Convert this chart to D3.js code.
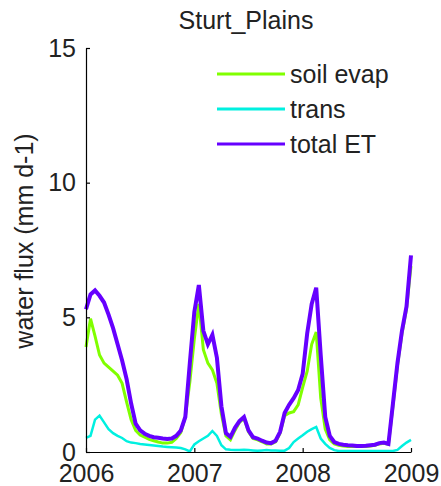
<!DOCTYPE html>
<html>
<head>
<meta charset="utf-8">
<script src="https://cdn.jsdelivr.net/npm/d3@7"></script>
<style>
  html, body { margin: 0; padding: 0; background: #fff; }
  text { font-family: "Liberation Sans", Arial, sans-serif; fill: #222; }
</style>
</head>
<body>
<svg id="chart" width="441" height="486"></svg>
<script>
// ---- data (half-monthly steps from 2006.0 to 2009.0) ----
const startYear = 2006;
const stepsPerYear = 24;
const soilEvap = [3.9, 4.95, 4.3, 3.6, 3.3, 3.15, 3.0, 2.85, 2.55, 1.85, 1.2, 0.8, 0.63, 0.55, 0.47, 0.42, 0.37, 0.33, 0.33, 0.36, 0.5, 0.72, 1.3, 2.6,
  4.2, 5.5, 3.8, 3.3, 3.05, 2.55, 1.4, 0.6, 0.45, 0.8, 1.1, 1.25, 0.75, 0.5, 0.45, 0.38, 0.3, 0.3, 0.38, 0.7, 1.35, 1.45, 1.5, 1.75,
  2.4, 3.0, 4.0, 4.45, 2.0, 0.85, 0.45, 0.3, 0.25, 0.22, 0.2, 0.2, 0.2, 0.2, 0.2, 0.22, 0.25, 0.3, 0.32, 0.28, 1.7, 3.2, 4.4, 5.3, 6.9];
const trans = [0.52, 0.6, 1.2, 1.35, 1.1, 0.85, 0.7, 0.6, 0.52, 0.4, 0.35, 0.33, 0.3, 0.28, 0.26, 0.24, 0.22, 0.2, 0.19, 0.18, 0.17, 0.15, 0.1, 0.02,
  0.28, 0.4, 0.5, 0.6, 0.78, 0.6, 0.25, 0.1, 0.08, 0.07, 0.07, 0.08, 0.07, 0.06, 0.05, 0.06, 0.07, 0.06, 0.06, 0.05, 0.05, 0.15, 0.37, 0.5,
  0.62, 0.75, 0.85, 0.93, 0.5, 0.3, 0.15, 0.07, 0.04, 0.04, 0.04, 0.04, 0.04, 0.04, 0.04, 0.04, 0.04, 0.04, 0.04, 0.04, 0.04, 0.08, 0.22, 0.35, 0.45];
const totalET = [5.3, 5.85, 6.0, 5.8, 5.55, 5.1, 4.6, 4.0, 3.4, 2.7, 1.8, 1.05, 0.8, 0.68, 0.6, 0.55, 0.53, 0.5, 0.48, 0.5, 0.6, 0.8, 1.3, 3.3,
  5.2, 6.2, 4.5, 4.0, 4.35, 3.5, 1.7, 0.7, 0.56, 0.9, 1.15, 1.3, 0.8, 0.55, 0.5, 0.42, 0.35, 0.33, 0.42, 0.75, 1.45, 1.75, 2.0, 2.3,
  2.9, 4.4, 5.5, 6.1, 3.6, 1.3, 0.6, 0.37, 0.3, 0.27, 0.25, 0.24, 0.22, 0.22, 0.23, 0.25, 0.27, 0.33, 0.35, 0.3, 1.8, 3.3, 4.5, 5.4, 7.3];
const xTicks = [2006, 2007, 2008, 2009];
const yTicks = [0, 5, 10, 15];
const seriesNames = ["soil evap", "trans", "total ET"];
const seriesColors = ["#80ff00", "#00f0e0", "#6600ff"];
const seriesWidths = [3, 2.5, 4];
const titleText = "Sturt_Plains";
const yLabelText = "water flux (mm d-1)";

// ---- chart ----
const svg = d3.select("#chart");
const x = d3.scaleLinear().domain([2006, 2009]).range([86, 411]);
const y = d3.scaleLinear().domain([0, 15]).range([452, 48]);
const t = i => startYear + i / stepsPerYear;

const line = d3.line().x((d, i) => x(t(i))).y(d => y(d));
[soilEvap, trans, totalET].forEach((s, k) => {
  svg.append("path").datum(s)
    .attr("d", line)
    .attr("fill", "none")
    .attr("stroke", seriesColors[k])
    .attr("stroke-width", seriesWidths[k])
    .attr("stroke-linejoin", "miter");
});

const xAxis = svg.append("g").attr("transform", "translate(0,452)")
  .call(d3.axisBottom(x).tickValues(xTicks).tickFormat(d3.format("d"))
    .tickSizeInner(-4).tickSizeOuter(0).tickPadding(12));
const yAxis = svg.append("g").attr("transform", "translate(86,0)")
  .call(d3.axisLeft(y).tickValues(yTicks)
    .tickSizeInner(-4).tickSizeOuter(0).tickPadding(10));
[xAxis, yAxis].forEach(g => {
  g.selectAll("path, line").attr("stroke", "#000").attr("stroke-width", 1.2);
  g.selectAll("text").attr("font-size", 25).attr("font-family", "'Liberation Sans', Arial, sans-serif").attr("fill", "#222");
});

svg.append("text").attr("x", 246).attr("y", 29).attr("text-anchor", "middle")
  .attr("font-size", 25).text(titleText);

svg.append("text")
  .attr("transform", "translate(33,241) rotate(-90)")
  .attr("text-anchor", "middle").attr("font-size", 25).text(yLabelText);

// legend
const legY = [74, 109, 144];
seriesNames.forEach((n, k) => {
  svg.append("line").attr("x1", 217).attr("x2", 285).attr("y1", legY[k]).attr("y2", legY[k])
    .attr("stroke", seriesColors[k]).attr("stroke-width", 3);
  svg.append("text").attr("x", 290).attr("y", legY[k] + 9).attr("font-size", 25).text(n);
});
</script>
</body>
</html>
